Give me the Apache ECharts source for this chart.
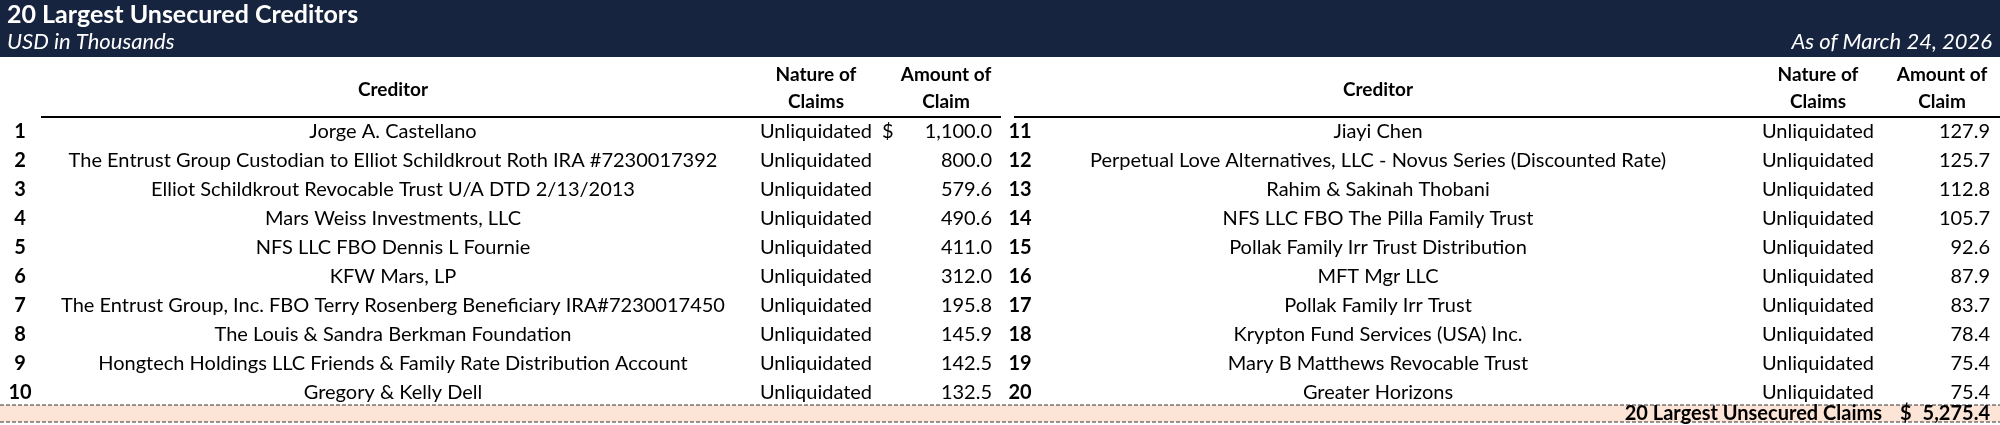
<!DOCTYPE html>
<html lang="en">
<head>
    <meta charset="UTF-8">
    <title>20 Largest Unsecured Creditors</title>
    <style>
        html, body { margin: 0; padding: 0; background: #fff; }
    </style>
</head>
<body>
<div id="main" style="width: 2000px;height:425px;"></div>
<script src="https://cdn.jsdelivr.net/npm/echarts@6/dist/echarts.min.js"></script>
<script>
    var creditors = [
        'Jorge A. Castellano',
        'The Entrust Group Custodian to Elliot Schildkrout Roth IRA #7230017392',
        'Elliot Schildkrout Revocable Trust U/A DTD 2/13/2013',
        'Mars Weiss Investments, LLC',
        'NFS LLC FBO Dennis L Fournie',
        'KFW Mars, LP',
        'The Entrust Group, Inc. FBO Terry Rosenberg Beneficiary IRA#7230017450',
        'The Louis & Sandra Berkman Foundation',
        'Hongtech Holdings LLC Friends & Family Rate Distribution Account',
        'Gregory & Kelly Dell',
        'Jiayi Chen',
        'Perpetual Love Alternatives, LLC - Novus Series (Discounted Rate)',
        'Rahim & Sakinah Thobani',
        'NFS LLC FBO The Pilla Family Trust',
        'Pollak Family Irr Trust Distribution',
        'MFT Mgr LLC',
        'Pollak Family Irr Trust',
        'Krypton Fund Services (USA) Inc.',
        'Mary B Matthews Revocable Trust',
        'Greater Horizons'
    ];
    var natures = ['Unliquidated', 'Unliquidated', 'Unliquidated', 'Unliquidated', 'Unliquidated',
        'Unliquidated', 'Unliquidated', 'Unliquidated', 'Unliquidated', 'Unliquidated',
        'Unliquidated', 'Unliquidated', 'Unliquidated', 'Unliquidated', 'Unliquidated',
        'Unliquidated', 'Unliquidated', 'Unliquidated', 'Unliquidated', 'Unliquidated'];
    var amounts = [1100.0, 800.0, 579.6, 490.6, 411.0, 312.0, 195.8, 145.9, 142.5, 132.5,
        127.9, 125.7, 112.8, 105.7, 92.6, 87.9, 83.7, 78.4, 75.4, 75.4];
    var headerTitle = '20 Largest Unsecured Creditors';
    var headerUnits = 'USD in Thousands';
    var headerDate = 'As of March 24, 2026';
    var totalLabel = '20 Largest Unsecured Claims';

    var FONT = 'Lato';
    var navy = '#16243f';
    var rowsPerSide = 10;
    // column positions for the two halves
    var sides = [
        {num: 20, name: 393, nature: 816, dollar: 882, amount: 992, lineL: 41, lineR: 1001, amountHead: 946},
        {num: 1020, name: 1378, nature: 1818, dollar: 1900, amount: 1990, lineL: 1014, lineR: 2000, amountHead: 1942}
    ];

    function fmt(v) {
        return v.toLocaleString('en-US', {minimumFractionDigits: 1, maximumFractionDigits: 1});
    }
    var total = amounts.reduce(function (a, b) { return a + b; }, 0);

    var rowCats = [];
    for (var r = 0; r < rowsPerSide; r++) rowCats.push(String(r));
    var seriesData = amounts.map(function (v, i) {
        return [i % rowsPerSide, Math.floor(i / rowsPerSide), v, i];
    });

    var txt = {fontFamily: FONT, fontSize: 20, fill: '#000'};

    var myChart = echarts.init(document.getElementById('main'));

    var graphics = [
        {type: 'rect', shape: {x: 0, y: 0, width: 2000, height: 57}, style: {fill: navy}},
        {type: 'text', left: 7, top: 2, style: {text: headerTitle, fontFamily: FONT, fontWeight: 'bold', fontSize: 25, fill: '#fff'}},
        {type: 'text', left: 7, top: 31, style: {text: headerUnits, fontFamily: FONT, fontStyle: 'italic', fontSize: 22, fill: '#fff'}},
        {type: 'text', right: 8, top: 31, style: {text: headerDate, fontFamily: FONT, fontStyle: 'italic', fontSize: 22, fill: '#fff'}},
        // total row
        {type: 'rect', shape: {x: 0, y: 405, width: 2000, height: 17}, style: {fill: '#fce4d6'}},
        {type: 'line', shape: {x1: 0, y1: 405, x2: 2000, y2: 405}, style: {stroke: '#333', lineWidth: 1, lineDash: [4, 2]}},
        {type: 'line', shape: {x1: 0, y1: 422, x2: 2000, y2: 422}, style: {stroke: '#333', lineWidth: 1, lineDash: [4, 2]}},
        {type: 'text', x: 1882, y: 414, style: {text: totalLabel, fontFamily: FONT, fontWeight: 'bold', fontSize: 20, fill: '#000', align: 'right', verticalAlign: 'middle'}},
        {type: 'text', x: 1900, y: 414, style: {text: '$', fontFamily: FONT, fontWeight: 'bold', fontSize: 20, fill: '#000', align: 'left', verticalAlign: 'middle'}},
        {type: 'text', x: 1990, y: 414, style: {text: fmt(total), fontFamily: FONT, fontWeight: 'bold', fontSize: 20, fill: '#000', align: 'right', verticalAlign: 'middle'}}
    ];
    sides.forEach(function (s) {
        var hb = {fontFamily: FONT, fontWeight: 'bold', fontSize: 19, fill: '#000', align: 'center', verticalAlign: 'middle'};
        graphics.push(
            {type: 'text', x: s.name, y: 90, style: Object.assign({text: 'Creditor'}, hb)},
            {type: 'text', x: s.nature, y: 75, style: Object.assign({text: 'Nature of'}, hb)},
            {type: 'text', x: s.nature, y: 102, style: Object.assign({text: 'Claims'}, hb)},
            {type: 'text', x: s.amountHead, y: 75, style: Object.assign({text: 'Amount of'}, hb)},
            {type: 'text', x: s.amountHead, y: 102, style: Object.assign({text: 'Claim'}, hb)},
            {type: 'line', shape: {x1: s.lineL, y1: 117, x2: s.lineR, y2: 117}, style: {stroke: '#000', lineWidth: 2}}
        );
    });

    var option = {
        animation: false,
        grid: {left: 0, right: 0, top: 117.5, height: 289},
        xAxis: {type: 'value', min: 0, max: 2000, show: false},
        yAxis: {type: 'category', data: rowCats, inverse: true, show: false},
        graphic: graphics,
        series: [{
            type: 'custom',
            data: seriesData,
            encode: {y: 0},
            renderItem: function (params, api) {
                var row = api.value(0);
                var side = sides[api.value(1)];
                var v = api.value(2);
                var idx = api.value(3);
                var y = api.coord([0, row])[1];
                function t(x, text, align, bold) {
                    return {
                        type: 'text',
                        style: Object.assign({}, txt, {
                            text: text, x: x, y: y, align: align, verticalAlign: 'middle',
                            fontWeight: bold ? 'bold' : 'normal'
                        })
                    };
                }
                var kids = [
                    t(side.num, String(idx + 1), 'center', true),
                    t(side.name, creditors[idx], 'center'),
                    t(side.nature, natures[idx], 'center'),
                    t(side.amount, fmt(v), 'right')
                ];
                if (row === 0 && api.value(1) === 0) kids.push(t(side.dollar, '$', 'left'));
                return {type: 'group', children: kids};
            }
        }]
    };
    myChart.setOption(option);
</script>
</body>
</html>
